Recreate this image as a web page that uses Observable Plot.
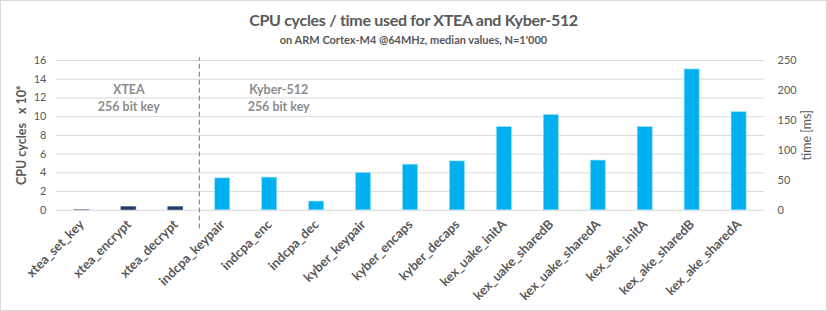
<!DOCTYPE html>
<html>
<head>
<meta charset="utf-8">
<script src="https://cdn.jsdelivr.net/npm/d3@7"></script>
<script src="https://cdn.jsdelivr.net/npm/@observablehq/plot@0.6"></script>
<style>
  html, body { margin: 0; padding: 0; background: #fff; }
  #frame { width: 827px; height: 311px; box-sizing: border-box; border: 1px solid #d9d9d9; position: relative; overflow: hidden; font-family: Lato, "Open Sans", sans-serif; }
  #title { position: absolute; top: 9px; left: 0; width: 100%; text-align: center; font-size: 16px; letter-spacing: -0.3px; font-weight: bold; color: #595959; }
  #subtitle { position: absolute; top: 32px; left: 0; width: 100%; text-align: center; font-size: 11px; font-weight: bold; color: #595959; }
  #chart { position: absolute; top: 47px; left: -1px; }
</style>
</head>
<body>
<div id="frame">
  <div id="title">CPU cycles / time used for XTEA and Kyber-512</div>
  <div id="subtitle">on ARM Cortex-M4 @64MHz, median values, N=1'000</div>
  <div id="chart"></div>
</div>
<script>
const categories = ["xtea_set_key", "xtea_encrypt", "xtea_decrypt", "indcpa_keypair", "indcpa_enc", "indcpa_dec",
  "kyber_keypair", "kyber_encaps", "kyber_decaps", "kex_uake_initA", "kex_uake_sharedB", "kex_uake_sharedA",
  "kex_ake_initA", "kex_ake_sharedB", "kex_ake_sharedA"];
const cyclesMillions = [0.01, 0.35, 0.35, 3.41, 3.49, 0.93, 3.98, 4.87, 5.22, 8.88, 10.16, 5.31, 8.88, 15.04, 10.48];
const groups = ["XTEA", "XTEA", "XTEA", "Kyber", "Kyber", "Kyber", "Kyber", "Kyber", "Kyber", "Kyber", "Kyber", "Kyber", "Kyber", "Kyber", "Kyber"];
const cycleTicks = [0, 2, 4, 6, 8, 10, 12, 14, 16];
const timeTicksMs = [0, 50, 100, 150, 200, 250];
const clockMHz = 64;
const groupNames = ["XTEA", "Kyber"];
const groupColors = ["#203864", "#00b0f0"];

const data = categories.map((c, i) => ({category: c, cycles: cyclesMillions[i], group: groups[i]}));

const W = 827, H = 264, mL = 56, mR = 62, mT = 12, mB = 102;
const step = (W - mL - mR) / categories.length;
const ms2cycles = ms => ms * clockMHz / 1000;

const plot = Plot.plot({
  width: W, height: H,
  marginLeft: mL, marginRight: mR, marginTop: mT, marginBottom: mB,
  style: {fontFamily: "Lato, 'Open Sans', sans-serif", fontSize: "11px", color: "#595959", background: "transparent"},
  x: {domain: categories, paddingInner: 0.68, paddingOuter: 0.34, label: null},
  y: {domain: [0, 16], label: null},
  color: {domain: groupNames, range: groupColors},
  marks: [
    Plot.gridY(cycleTicks, {stroke: "#d9d9d9", strokeOpacity: 1, strokeWidth: 1}),
    Plot.barY(data, {x: "category", y: "cycles", fill: "group", stroke: d => d.group === "Kyber" ? "#8fdcf8" : "#5b6f99", strokeWidth: 0.6}),
    Plot.ruleX(["xtea_decrypt"], {x: d => d, y1: -2, y2: 16.3, dx: step / 2, stroke: "#8c8c8c", strokeWidth: 1.2, strokeDasharray: "5,3", clip: false}),
    Plot.text(["XTEA\n256 bit key"], {x: () => "xtea_encrypt", y: () => 12.05, lineHeight: 1.35, fontSize: 12.5, fontWeight: "bold", fill: "#8c8c8c"}),
    Plot.text(["Kyber-512\n256 bit key"], {x: () => "indcpa_enc", y: () => 12.05, dx: 9, lineHeight: 1.35, fontSize: 12.5, fontWeight: "bold", fill: "#8c8c8c"}),
    Plot.axisY(cycleTicks, {anchor: "left", tickSize: 0, tickPadding: 10, fill: "#595959", fontSize: 11, label: null}),
    Plot.axisY(timeTicksMs.map(ms2cycles), {anchor: "right", tickSize: 0, tickPadding: 13, tickFormat: d => String(Math.round(d * 1000 / clockMHz)), fill: "#595959", fontSize: 11, label: null}),
    Plot.axisX({tickSize: 0, tickRotate: -45, tickPadding: 12, fontWeight: "bold", fontSize: 13, fill: "#595959", label: null}),
    Plot.text(["CPU cycles   x 10\u2076"], {frameAnchor: "left", dx: -34, rotate: -90, textAnchor: "middle", fontSize: 12.5, fontWeight: "bold", fill: "#595959"}),
    Plot.text(["time [ms]"], {frameAnchor: "right", dx: 42, rotate: -90, textAnchor: "middle", fontSize: 12.5, fill: "#595959"})
  ]
});
document.getElementById("chart").appendChild(plot);
</script>
</body>
</html>
